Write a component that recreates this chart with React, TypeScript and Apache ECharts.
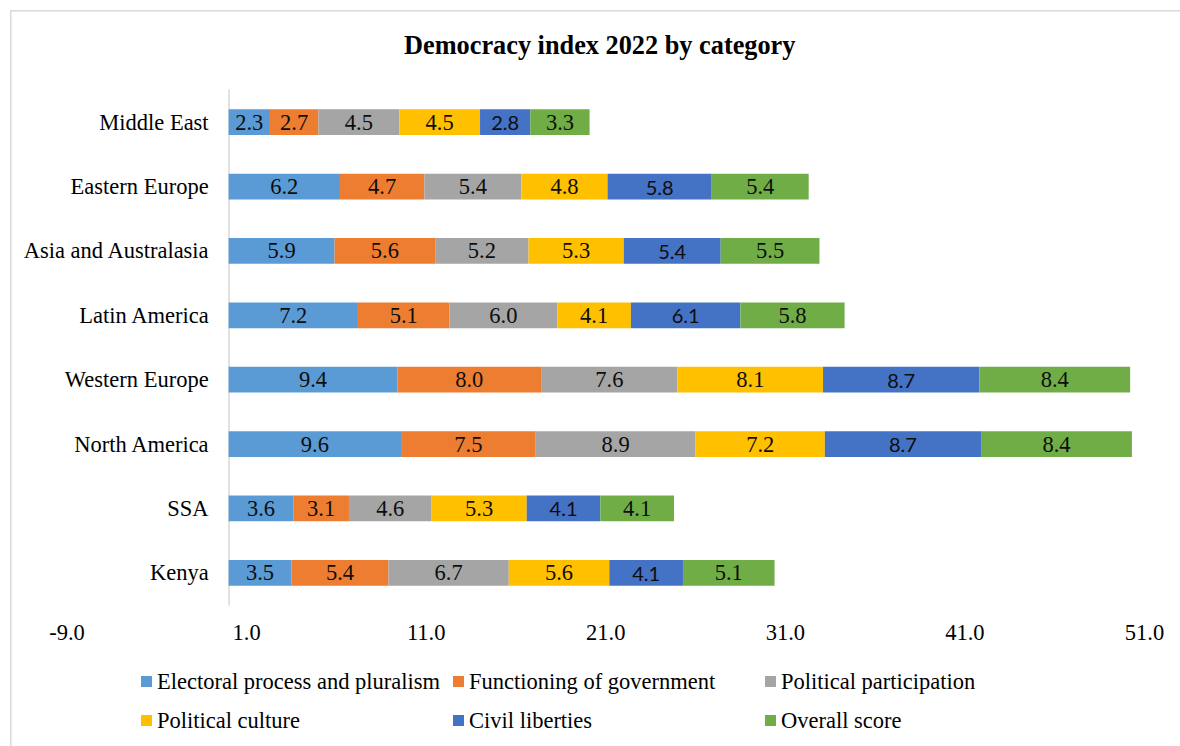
import React, { useEffect, useRef } from "react";
import * as echarts from "echarts";

// Regions, listed bottom-to-top because a category y axis grows upward
const categories = [
  "Kenya",
  "SSA",
  "North America",
  "Western Europe",
  "Latin America",
  "Asia and Australasia",
  "Eastern Europe",
  "Middle East",
];

const electoralProcess = [3.5, 3.6, 9.6, 9.4, 7.2, 5.9, 6.2, 2.3];
const functioningGov = [5.4, 3.1, 7.5, 8.0, 5.1, 5.6, 4.7, 2.7];
const politicalParticipation = [6.7, 4.6, 8.9, 7.6, 6.0, 5.2, 5.4, 4.5];
const politicalCulture = [5.6, 5.3, 7.2, 8.1, 4.1, 5.3, 4.8, 4.5];
const civilLiberties = [4.1, 4.1, 8.7, 8.7, 6.1, 5.4, 5.8, 2.8];
const overallScore = [5.1, 4.1, 8.4, 8.4, 5.8, 5.5, 5.4, 3.3];

const seriesNames = [
  "Electoral process and pluralism",
  "Functioning of government",
  "Political participation",
  "Political culture",
  "Civil liberties",
  "Overall score",
];
const seriesValues = [
  electoralProcess,
  functioningGov,
  politicalParticipation,
  politicalCulture,
  civilLiberties,
  overallScore,
];
const seriesColors = ["#5B9BD5", "#ED7D31", "#A5A5A5", "#FFC000", "#4472C4", "#70AD47"];

const SERIF = "'Times New Roman', 'Liberation Serif', serif";
const SANS = "Lato, 'Liberation Sans', sans-serif";

const X_MIN = -9;
const X_MAX = 51;
const GRID_LEFT = 67;
const GRID_RIGHT = 35.5;
const CHART_W = 1180;

// Legend grid: three columns, two rows
const legendColumns = [141, 453, 765];
const legendRows = [670, 709];

export default function App() {
  const ref = useRef<HTMLDivElement>(null);

  useEffect(() => {
    if (!ref.current) return;
    const chart = echarts.init(ref.current, undefined, { renderer: "svg" });

    // The category axis sits where the value axis reads zero
    const plotW = CHART_W - GRID_LEFT - GRID_RIGHT;
    const zeroOffset = ((0 - X_MIN) / (X_MAX - X_MIN)) * plotW;

    const series = seriesNames.map((name, i) => ({
      name,
      type: "bar",
      stack: "total",
      barWidth: "40%",
      data: seriesValues[i],
      itemStyle: { color: seriesColors[i] },
      label: {
        show: true,
        position: "inside",
        formatter: (p: any) => Number(p.value).toFixed(1),
        color: "#0d0d0d",
        fontFamily: i === 4 ? SANS : SERIF,
        fontSize: i === 4 ? 20 : 22.5,
      },
    }));

    const legends = seriesNames.map((name, i) => ({
      data: [name],
      left: legendColumns[i % 3],
      top: legendRows[Math.floor(i / 3)],
      padding: 0,
      itemWidth: 11,
      itemHeight: 11,
      icon: "rect",
      textStyle: { fontFamily: SERIF, fontSize: 22.5, color: "#000" },
    }));

    chart.setOption({
      animation: false,
      backgroundColor: "#fff",
      title: {
        text: "Democracy index 2022 by category",
        left: 404,
        top: 32,
        padding: 0,
        textStyle: { fontFamily: SERIF, fontSize: 26.3, fontWeight: "bold", color: "#000" },
      },
      legend: legends,
      grid: {
        left: GRID_LEFT,
        right: GRID_RIGHT,
        top: 90,
        bottom: 141,
        containLabel: false,
        outerBoundsMode: "none",
      },
      xAxis: {
        type: "value",
        min: X_MIN,
        max: X_MAX,
        interval: 10,
        axisLine: { show: false },
        axisTick: { show: false },
        splitLine: { show: false },
        axisLabel: {
          formatter: (v: number) => v.toFixed(1),
          fontFamily: SERIF,
          fontSize: 22.5,
          color: "#000",
          margin: 16,
        },
      },
      yAxis: {
        type: "category",
        data: categories,
        offset: -zeroOffset,
        axisLine: { show: true, onZero: false, lineStyle: { color: "#d9d9d9", width: 1.5 } },
        axisTick: { show: false },
        splitLine: { show: false },
        axisLabel: {
          fontFamily: SERIF,
          fontSize: 22.5,
          color: "#000",
          margin: 20,
        },
      },
      graphic: [
        {
          type: "rect",
          shape: { x: 10.75, y: 10.75, width: 1300, height: 900 },
          style: { fill: "none", stroke: "#d9d9d9", lineWidth: 1.5 },
          silent: true,
        },
      ],
      series,
    });

    return () => chart.dispose();
  }, []);

  return (
    <div
      ref={ref}
      style={{ position: "fixed", left: 0, top: 0, width: CHART_W, height: 746, background: "#fff" }}
    />
  );
}
